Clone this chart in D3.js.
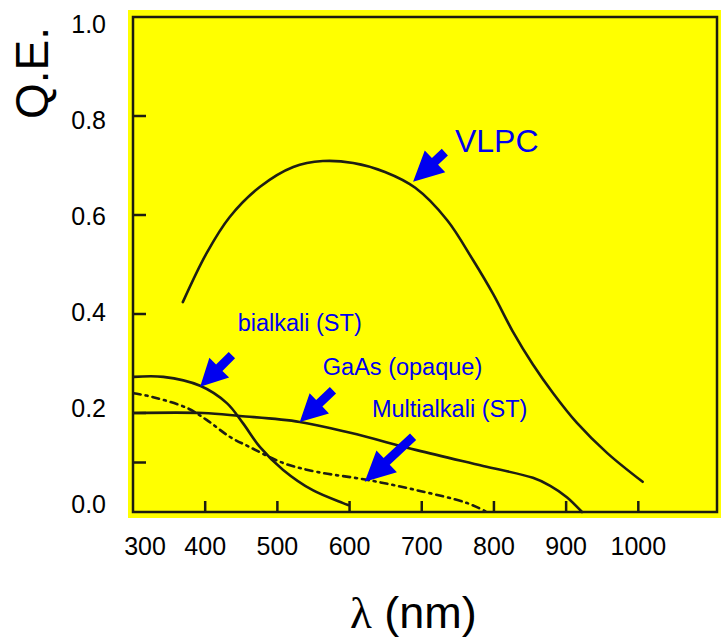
<!DOCTYPE html>
<html>
<head>
  <meta charset="utf-8">
  <script type="text/javascript" src="https://cdn.jsdelivr.net/npm/d3@7"></script>
  <style>
    body { margin: 0; background: #fff; }
    text { font-family: "Liberation Sans", Arial, sans-serif; }
  </style>
</head>
<body>
<div id="viz"></div>
<script type="text/javascript">
// curves: [wavelength nm, quantum efficiency]
var vlpc = [[369,.424],[402,.523],[434,.596],[476,.657],[522,.697],[563,.709],
  [605,.705],[649,.687],[691,.655],[735,.590],[771,.509],[799,.440],[826,.365],
  [854,.298],[882,.240],[915,.180],[957,.119],[1006,.061]];
var bialkali = [[301,.273],[342,.273],[393,.255],[430,.220],[452,.180],[476,.131],
  [508,.085],[549,.044],[591,.018],[598,.014]];
var multialkali = [[301,.240],[328,.232],[375,.210],[402,.186],[434,.152],[462,.131],
  [508,.099],[555,.081],[624,.065],[693,.044],[763,.018],[790,.000]];
var gaas = [[301,.200],[397,.200],[448,.194],[531,.182],[601,.160],[693,.125],
  [785,.093],[854,.069],[878,.053],[901,.030],[922,.000]];

var xTicks = [400, 500, 600, 700, 800, 900, 1000];
var xLabels = [300, 400, 500, 600, 700, 800, 900, 1000];
var yTicks = [0.1, 0.2, 0.4, 0.6, 0.8];
var yLabels = [0.0, 0.2, 0.4, 0.6, 0.8, 1.0];

// annotations: text, label anchor, arrow tip, arrow tail (data coords)
var notes = [
  {text: "VLPC", size: 32, at: [746, .727], tip: [688, .667], tail: [732, .727], head: 30, half: 15},
  {text: "bialkali (ST)", size: 23.5, at: [445, .366], tip: [393, .253], tail: [437, .317], head: 27, half: 14},
  {text: "GaAs (opaque)", size: 23.5, at: [563, .277], tip: [531, .182], tail: [577, .246], head: 27, half: 14},
  {text: "Multialkali (ST)", size: 23.5, at: [631, .192], tip: [621, .061], tail: [688, .152], head: 30, half: 15}
];

var svg = d3.select("#viz").append("svg")
  .attr("width", 721).attr("height", 640);

var x = d3.scaleLinear().domain([300, 1109]).range([133, 717]);
var y = d3.scaleLinear().domain([0, 1]).range([512, 17]);
// tick labels in the picture sit slightly off the tick marks
var yLab = d3.scaleLinear().domain([0, 1]).range([504, 24]);

svg.append("rect")
  .attr("x", 128).attr("y", 10).attr("width", 593).attr("height", 508)
  .attr("fill", "#ffff00");

// frame
svg.append("rect")
  .attr("x", x(300)).attr("y", y(1))
  .attr("width", x(1109) - x(300)).attr("height", y(0) - y(1))
  .attr("fill", "none").attr("stroke", "#1c1c10").attr("stroke-width", 2.5);

// inner ticks
svg.append("g").selectAll("line").data(xTicks).enter().append("line")
  .attr("x1", d => x(d)).attr("x2", d => x(d))
  .attr("y1", y(0)).attr("y2", y(0) - 11)
  .attr("stroke", "#1c1c10").attr("stroke-width", 2.5);
svg.append("g").selectAll("line").data(yTicks).enter().append("line")
  .attr("x1", x(300)).attr("x2", x(300) + 13)
  .attr("y1", d => y(d)).attr("y2", d => y(d))
  .attr("stroke", "#1c1c10").attr("stroke-width", 2.5);

// tick labels
svg.append("g").selectAll("text").data(xLabels).enter().append("text")
  .attr("x", d => x(d)).attr("dx", d => d === 300 ? 12 : 0)
  .attr("y", 555)
  .attr("text-anchor", "middle").attr("font-size", 25)
  .text(d => d);
svg.append("g").selectAll("text").data(yLabels).enter().append("text")
  .attr("x", 106).attr("y", d => yLab(d))
  .attr("dy", "0.36em")
  .attr("text-anchor", "end").attr("font-size", 25)
  .text(d => d.toFixed(1));

// axis titles
svg.append("text")
  .attr("transform", "translate(48,73) rotate(-90)")
  .attr("text-anchor", "middle").attr("font-size", 46)
  .text("Q.E.");
var xt = svg.append("text").attr("x", 350).attr("y", 628).attr("font-size", 45);
xt.append("tspan").attr("font-family", "Liberation Serif, serif").text("λ");
xt.append("tspan").text(" (nm)");

// curves
var line = d3.line().x(d => x(d[0])).y(d => y(d[1])).curve(d3.curveCatmullRom.alpha(0.5));
function curve(data, dash) {
  svg.append("path").datum(data)
    .attr("d", line)
    .attr("fill", "none").attr("stroke", "#1e1e14")
    .attr("stroke-width", 2.6)
    .attr("stroke-dasharray", dash)
    .attr("stroke-linecap", "round");
}
curve(vlpc, null);
curve(gaas, null);
curve(bialkali, null);
curve(multialkali, "7,5,2,5");

// arrows + labels
notes.forEach(function(n) {
  var tx = x(n.tip[0]), ty = y(n.tip[1]);
  var ex = x(n.tail[0]), ey = y(n.tail[1]);
  var len = Math.hypot(ex - tx, ey - ty);
  var ux = (ex - tx) / len, uy = (ey - ty) / len;
  var px = -uy, py = ux;
  var bx = tx + ux * n.head, by = ty + uy * n.head;
  var w = 4.5;
  var pts = [
    [tx, ty],
    [bx + px * n.half, by + py * n.half],
    [bx + px * w, by + py * w],
    [ex + px * w, ey + py * w],
    [ex - px * w, ey - py * w],
    [bx - px * w, by - py * w],
    [bx - px * n.half, by - py * n.half]
  ];
  svg.append("polygon")
    .attr("points", pts.map(p => p.join(",")).join(" "))
    .attr("fill", "#0000f0");
  svg.append("text")
    .attr("x", x(n.at[0])).attr("y", y(n.at[1]))
    .attr("font-size", n.size).attr("fill", "#0000f0")
    .text(n.text);
});
</script>
</body>
</html>
